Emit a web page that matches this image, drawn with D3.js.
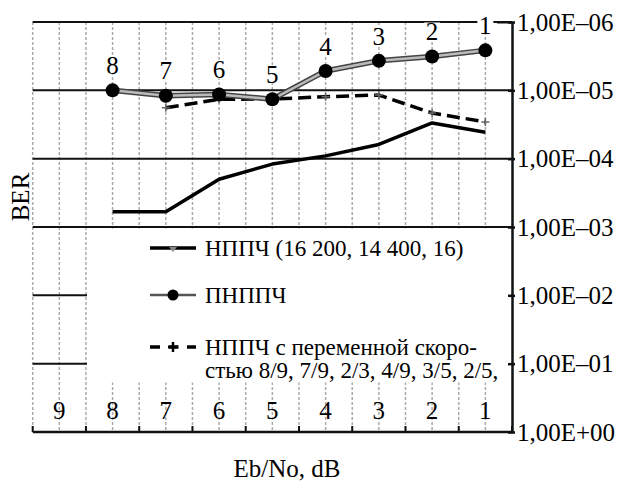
<!DOCTYPE html>
<html>
<head>
<meta charset="utf-8">
<script src="https://cdn.jsdelivr.net/npm/d3@7"></script>
<style>
  body { margin: 0; background: #fff; }
  svg text { font-family: "Liberation Serif", "DejaVu Serif", serif; fill: #000; }
</style>
</head>
<body>
<div id="chart"></div>
<script>
const categories = ["9", "8", "7", "6", "5", "4", "3", "2", "1"];
const yTicks = [1e-6, 1e-5, 1e-4, 1e-3, 1e-2, 1e-1, 1];
const yTickLabels = ["1,00E–06", "1,00E–05", "1,00E–04", "1,00E–03", "1,00E–02", "1,00E–01", "1,00E+00"];
// BER per Eb/No category (null = no point)
const pnppch = [null, 1.0e-5, 1.2e-5, 1.15e-5, 1.35e-5, 5.2e-6, 3.7e-6, 3.2e-6, 2.6e-6];
const nppch = [null, 6.0e-4, 6.0e-4, 2.0e-4, 1.2e-4, 9.1e-5, 6.2e-5, 3.0e-5, 4.1e-5];
const nppchVar = [null, null, 1.8e-5, 1.35e-5, 1.34e-5, 1.24e-5, 1.17e-5, 2.15e-5, 2.9e-5];
const pointLabels = ["", "8", "7", "6", "5", "4", "3", "2", "1"];
const legendLabels = [
  ["НППЧ (16 200, 14 400, 16)"],
  ["ПНППЧ"],
  ["НППЧ с переменной скоро-", "стью 8/9, 7/9, 2/3, 4/9, 3/5, 2/5,"]
];

const W = 619, H = 482;
const plot = {left: 32.7, right: 512, top: 22, bottom: 432};
const serif = "'Liberation Serif', 'DejaVu Serif', serif";

const svg = d3.select("#chart").append("svg")
  .attr("width", W).attr("height", H)
  .attr("font-family", serif);

const x = d3.scaleBand().domain(categories).range([plot.left, plot.right]);
const y = d3.scaleLog().domain([1e-6, 1]).range([plot.top, plot.bottom]);
const cx = i => x(categories[i]) + x.bandwidth() / 2;

// vertical dashed grid: band edges and centres
const vLines = [];
categories.forEach(c => { vLines.push(x(c)); vLines.push(x(c) + x.bandwidth() / 2); });
svg.append("g").selectAll("line").data(vLines).enter().append("line")
  .attr("x1", d => d).attr("x2", d => d)
  .attr("y1", plot.top).attr("y2", plot.bottom)
  .attr("stroke", "#aaa").attr("stroke-width", 1.5)
  .attr("stroke-dasharray", "3,2");

// horizontal grid
svg.append("g").selectAll("line").data(yTicks.slice(0, 6)).enter().append("line")
  .attr("x1", plot.left).attr("x2", plot.right)
  .attr("y1", d => y(d)).attr("y2", d => y(d))
  .attr("stroke", "#111").attr("stroke-width", 2);

// legend background covers lower part of the grid
svg.append("rect")
  .attr("x", x("8") + 1).attr("y", y(1e-3) + 1.5)
  .attr("width", plot.right - x("8") - 2).attr("height", 154)
  .attr("fill", "#fff");

// bottom category labels
svg.append("g").selectAll("text").data(categories).enter().append("text")
  .attr("x", d => x(d) + x.bandwidth() / 2)
  .attr("y", 419)
  .attr("text-anchor", "middle")
  .style("font-size", "25px")
  .text(d => d);

// bottom axis: ticks at band edges
const edges = categories.map(c => x(c)).concat([plot.right]);
const gx = svg.append("g").attr("transform", "translate(0," + plot.bottom + ")");
gx.selectAll(".edge").data(edges).enter().append("line")
  .attr("x1", d => d).attr("x2", d => d)
  .attr("y1", 0).attr("y2", -6)
  .attr("stroke", "#111").attr("stroke-width", 2);
gx.append("line").attr("x1", plot.left).attr("x2", plot.right + 1)
  .attr("y1", 0).attr("y2", 0).attr("stroke", "#111").attr("stroke-width", 2.5);

// right axis
const yAxis = d3.axisRight(y).tickValues(yTicks).tickSize(0).tickFormat((d, i) => yTickLabels[i]);
const gy = svg.append("g").attr("transform", "translate(" + plot.right + ",0)").call(yAxis);
gy.attr("font-family", serif).attr("font-size", 25);
gy.select(".domain").attr("stroke", "#111").attr("stroke-width", 2.5);
gy.selectAll(".tick text")
  .attr("x", 5).attr("fill", "#000");
gy.selectAll(".tick").append("line")
  .attr("x1", -4).attr("x2", 3).attr("stroke", "#111").attr("stroke-width", 2.5);
gy.select(".tick").append("line")
  .attr("x1", -15).attr("x2", 0).attr("stroke", "#111").attr("stroke-width", 2);

const line = d3.line()
  .defined(d => d != null)
  .x((d, i) => cx(i))
  .y(d => y(d));

// НППЧ (16 200, 14 400, 16)
svg.append("path").datum(nppch)
  .attr("d", line).attr("fill", "none")
  .attr("stroke", "#000").attr("stroke-width", 3.5)
  .attr("stroke-linejoin", "round");

// НППЧ variable rate
svg.append("path").datum(nppchVar)
  .attr("d", line).attr("fill", "none")
  .attr("stroke", "#000").attr("stroke-width", 3.5)
  .attr("stroke-dasharray", "13,6");
svg.append("g").selectAll("path").data(nppchVar.map((d, i) => [d, i]).filter(p => p[0] != null)).enter()
  .append("path")
  .attr("d", p => { const px = cx(p[1]), py = y(p[0]); return "M" + (px - 4) + "," + py + "H" + (px + 4) + "M" + px + "," + (py - 4) + "V" + (py + 4); })
  .attr("stroke", "#666").attr("stroke-width", 1.5);

// ПНППЧ
svg.append("path").datum(pnppch)
  .attr("d", line).attr("fill", "none")
  .attr("stroke", "#444").attr("stroke-width", 5.5);
svg.append("path").datum(pnppch)
  .attr("d", line).attr("fill", "none")
  .attr("stroke", "#bbb").attr("stroke-width", 2.5);
const pts = pnppch.map((d, i) => [d, i]).filter(p => p[0] != null);
svg.append("g").selectAll("circle").data(pts).enter().append("circle")
  .attr("cx", p => cx(p[1])).attr("cy", p => y(p[0]))
  .attr("r", 7).attr("fill", "#000");

// point labels with white background
const lab = svg.append("g").selectAll("g").data(pts).enter().append("g")
  .attr("transform", p => "translate(" + cx(p[1]) + "," + (y(p[0]) - 25) + ")");
lab.append("rect").attr("x", -8).attr("y", -9).attr("width", 16).attr("height", 18).attr("fill", "#fff");
lab.append("text").attr("text-anchor", "middle").attr("dy", "0.35em")
  .style("font-size", "25px").text(p => pointLabels[p[1]]);

// legend
const legY = [248, 295, 347];
const lg = svg.append("g");
lg.append("line").attr("x1", 150).attr("x2", 196).attr("y1", legY[0]).attr("y2", legY[0])
  .attr("stroke", "#000").attr("stroke-width", 3.5);
lg.append("path").attr("d", "M169," + (legY[0] - 1) + "L177," + (legY[0] - 1) + "L173," + (legY[0] + 4) + "Z")
  .attr("fill", "#888");
lg.append("line").attr("x1", 150).attr("x2", 196).attr("y1", legY[1]).attr("y2", legY[1])
  .attr("stroke", "#555").attr("stroke-width", 2.5);
lg.append("circle").attr("cx", 173).attr("cy", legY[1]).attr("r", 5.5).attr("fill", "#000");
lg.append("line").attr("x1", 150).attr("x2", 196).attr("y1", legY[2]).attr("y2", legY[2])
  .attr("stroke", "#000").attr("stroke-width", 3.5).attr("stroke-dasharray", "10,8.5");
lg.append("path").attr("d", "M168," + legY[2] + "H178M173," + (legY[2] - 5) + "V" + (legY[2] + 5))
  .attr("stroke", "#000").attr("stroke-width", 2.5);
legendLabels.forEach((lines, k) => {
  lines.forEach((t, j) => {
    lg.append("text").attr("x", 205).attr("y", legY[k] + j * 23).attr("dy", "0.35em")
      .style("font-size", "23px").text(t);
  });
});

// axis titles
svg.append("text").attr("x", 287).attr("y", 468).attr("dy", "0.35em")
  .attr("text-anchor", "middle").style("font-size", "25px").text("Eb/No, dB");
svg.append("text").attr("transform", "translate(20,197) rotate(-90)")
  .attr("dy", "0.35em").attr("text-anchor", "middle")
  .style("font-size", "25px").text("BER");
</script>
</body>
</html>
